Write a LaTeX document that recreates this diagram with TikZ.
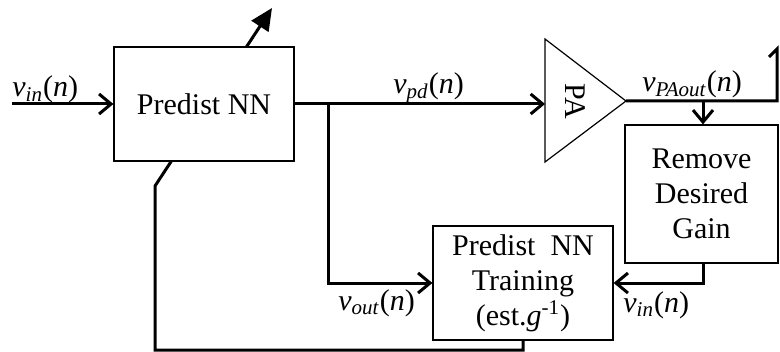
\documentclass[tikz,border=0pt]{standalone}
\usepackage{fontspec}
\setmainfont{Liberation Serif}
\usetikzlibrary{arrows.meta,backgrounds}
\newcommand\sig[1]{\textit{v}\textsubscript{\textit{#1}}(\textit{n})}
\begin{document}
\begin{tikzpicture}[x=0.5pt,y=-0.5pt,
  every node/.style={font=\fontsize{15}{17.5}\selectfont},
  blockbox/.style={draw,line width=0.6pt,fill=white,align=center,inner sep=0pt},
  sigline/.style={line width=1.5pt},
  sigarrow/.style={sigline,-{Straight Barb[length=6pt,width=10pt]}},
  lbl/.style={anchor=base west,inner sep=0pt}]
\useasboundingbox (0,0) rectangle (780,352);
% blocks
\node[blockbox,minimum width=90pt,minimum height=57pt] (pd) at (204,104) {Predist NN};
\node[blockbox,minimum width=90pt,minimum height=57pt] (train) at (523,283) {Predist\ \ NN\\Training\\(est.\textit{g}\textsuperscript{-1})};
\node[blockbox,minimum width=76.5pt,minimum height=69pt] (rm) at (701.5,194) {Remove\\Desired\\Gain};
% PA triangle
\coordinate (paT) at (545,39);
\coordinate (paB) at (545,162);
\coordinate (paout) at (626,101);
\coordinate (pain) at (545,104);
\draw[line width=0.6pt] (paT) -- (paout) -- (paB) -- cycle;
\node[rotate=-90] (palbl) at (575,101) {PA};
% coordinates
\coordinate (src) at (12,104);
\coordinate (j1) at (328,104);
\coordinate (j2) at (703,101);
\coordinate (rc) at (777,101);
\coordinate (rtop) at (777,49);
\coordinate (rhook) at (769,57);
\coordinate (fb1) at (155,350);
\coordinate (fb2) at (155,186);
\coordinate (adapt) at (272,8);
% feedback / adaptation
\begin{scope}[on background layer]
\draw[sigline,-{Triangle[length=11pt,width=10pt]}] (train.south) |- (fb1) -- (fb2) -- (adapt);
\end{scope}
% signal lines
\draw[sigarrow] (src) -- (pd.west);
\draw[sigarrow] (pd.east |- pain) -- (pain);
\draw[sigarrow] (j1) |- (train.west);
\draw[sigline] (paout) -- (rc) -- (rtop) -- (rhook);
\draw[sigarrow] (j2) -- (rm.north -| j2);
\draw[sigarrow] (rm.south -| j2) |- (train.east);
% labels
\node[lbl] (l1) at (12,97) {\sig{in}};
\node[lbl] (l2) at (393,94) {\sig{pd}};
\node[lbl] (l3) at (642,92) {\sig{PAout}};
\node[lbl] (l4) at (338,310) {\sig{out}};
\node[lbl] (l5) at (623,312) {\sig{in}};
\end{tikzpicture}
\end{document}
